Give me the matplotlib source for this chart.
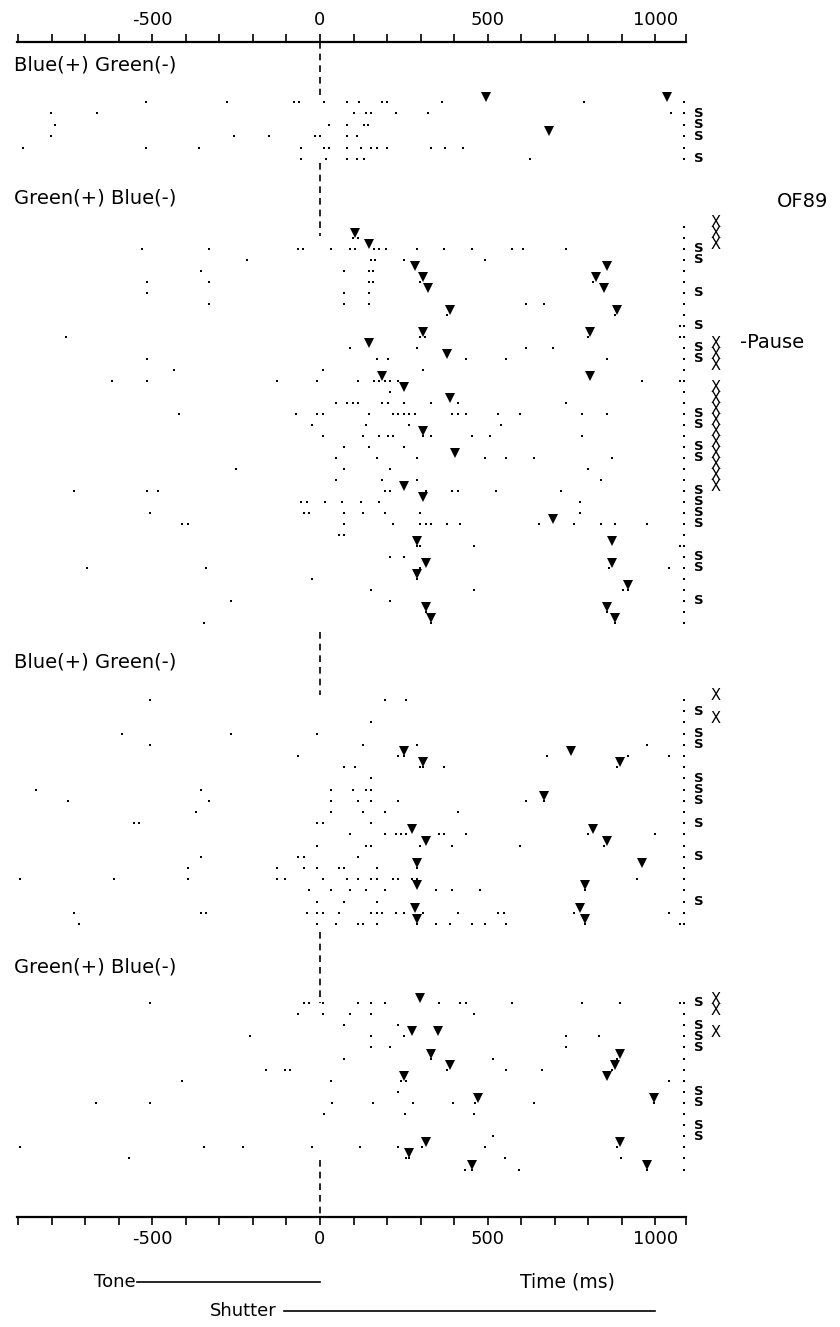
import matplotlib
matplotlib.use("Agg")
import matplotlib.pyplot as plt

# ---------------- data ----------------
tick_values = list(range(-900, 1001, 100))
labelled_ticks = [-500, 0, 500, 1000]
block_labels = ["Blue(+) Green(-)", "Green(+) Blue(-)", "Blue(+) Green(-)", "Green(+) Blue(-)"]

# spike times (ms) per trial row, per block
block1_spikes = [
    [-519, -278, -77, -64, 12, 81, 116, 185, 199, 365, 786],
    [-802, -664, 102, 137, 151, 227, 323, 1048],
    [-789, 26, 81, 130, 144],
    [-802, -257, -153, -15, -1, 81, 109],
    [-885, -519, -360, -57, 12, 26, 81, 123, 151, 171, 199, 330, 372, 427],
    [-57, 19, 81, 109, 130, 627],
]
block1_triangles = [(0, 496), (0, 1035), (3, 682)]
block1_s_rows = [1, 2, 3, 5]
block1_x_rows = []

block2_spikes = [
    [],
    [97, 113],
    [-532, -331, -65, -52, 32, 89, 105, 161, 177, 197, 290, 371, 452, 573, 605, 734],
    [-218, 153, 165, 250, 492],
    [-355, 73, 145, 158],
    [-516, -331, 145, 158, 298, 815],
    [-516, 73, 145],
    [-331, 73, 145, 613, 669],
    [379, 879],
    [1073],
    [-758, 298, 314, 798, 1073],
    [89, 290, 613, 694],
    [-516, 169, 202, 435, 556, 855],
    [-435, 8, 306],
    [-621, -516, -129, -8, 113, 161, 177, 194, 210, 234, 960, 1073],
    [210],
    [48, 81, 97, 113, 185, 202, 250, 331, 411, 734],
    [-419, -73, -8, 8, 145, 218, 234, 250, 266, 282, 395, 411, 435, 532, 597, 782, 855],
    [-24, 137, 266, 540],
    [8, 129, 177, 202, 218, 306, 331, 452, 508, 782],
    [73, 145, 250],
    [48, 169, 290, 492, 556, 637, 871],
    [-250, 73, 210, 798],
    [48, 185, 290, 839],
    [-734, -516, -484, 194, 210, 315, 395, 411, 524, 718],
    [-56, -40, 16, 65, 121, 177, 774],
    [-508, -48, -32, 73, 129, 194, 298, 774],
    [-411, -395, 73, 218, 298, 315, 331, 379, 419, 653, 758, 839, 879, 976],
    [56, 73],
    [290, 298, 460, 1073],
    [210, 250],
    [-694, -339, 298, 863, 1040],
    [-24, 290],
    [153, 460, 903, 919],
    [-266, 210],
    [315, 855],
    [-347, 331, 879],
]
block2_triangles = [(1, 105), (2, 145), (4, 282), (4, 855), (5, 306), (5, 823), (6, 323), (6, 847),
                    (8, 387), (8, 887), (10, 306), (10, 806), (11, 145), (12, 379), (14, 185), (14, 806),
                    (15, 250), (16, 387), (19, 306), (21, 403), (24, 250), (25, 306), (27, 694),
                    (29, 290), (29, 871), (31, 315), (31, 871), (32, 290), (33, 919), (35, 315),
                    (35, 855), (36, 331), (36, 879)]
block2_s_rows = [2, 3, 6, 9, 11, 12, 17, 18, 20, 21, 24, 25, 26, 27, 30, 31, 34]
block2_x_rows = [0, 1, 2, 11, 12, 13, 15, 16, 17, 18, 19, 20, 21, 22, 23, 24]

block3_spikes = [
    [-508, 194, 258],
    [],
    [153],
    [-589, -266, -8],
    [-508, 129, 290, 976],
    [-65, 234, 250, 677, 919, 1040],
    [73, 105, 298, 306, 371, 887],
    [153],
    [-847, -355, 32, 97, 137, 153],
    [-750, -331, 32, 113, 153, 234, 613, 669],
    [-371, 32, 129, 194, 411],
    [-556, -540, -8, 8, 153],
    [89, 194, 226, 242, 258, 355, 371, 435, 798, 1000],
    [-8, 137, 153, 298, 395, 597, 847],
    [-355, -65, -48, 113],
    [-395, -129, -48, -8, 56, 73, 169, 290],
    [-895, -613, -395, -129, -105, 8, 81, 113, 153, 169, 218, 234, 274, 290, 944],
    [-32, 32, 89, 137, 194, 347, 395, 476, 790],
    [-8, 73, 169],
    [-734, -355, -339, -40, -8, 8, 56, 153, 169, 185, 226, 250, 306, 411, 532, 548, 758, 1040],
    [-718, -8, 48, 113, 129, 169, 290, 347, 387, 452, 492, 556, 790, 1073],
]
block3_triangles = [(5, 250), (5, 750), (6, 306), (6, 895), (9, 669), (12, 274), (12, 815),
                    (13, 315), (13, 855), (15, 290), (15, 960), (17, 290), (17, 790),
                    (19, 282), (19, 774), (20, 290), (20, 790)]
block3_s_rows = [1, 3, 4, 7, 8, 9, 11, 14, 18]
block3_x_rows = [0, 2]

block4_spikes = [
    [-508, -48, -32, 8, 113, 153, 194, 355, 419, 435, 573, 782, 895, 1073],
    [-65, 8, 89, 153, 460],
    [73, 234],
    [-210, 153, 250, 734, 831],
    [153, 210, 734],
    [73, 331, 516, 887],
    [-161, -105, -89, 379, 556, 661, 871],
    [-411, 32, 242, 258, 1040],
    [234],
    [-669, -508, 35, 158, 277, 398, 463, 637, 995],
    [13, 255, 460],
    [],
    [516],
    [-895, -347, -229, -24, 118, 234, 303, 492, 887],
    [-569, 258, 266, 553, 898],
    [432, 452, 594, 976],
]
block4_triangles = [(0, 298), (3, 274), (3, 352), (5, 331), (5, 895), (6, 387), (6, 879),
                    (7, 250), (7, 855), (9, 471), (9, 995), (13, 315), (13, 895),
                    (14, 266), (15, 452), (15, 976)]
block4_s_rows = [0, 2, 3, 4, 8, 9, 11, 12]
block4_x_rows = [0, 1, 3]

trial_end_ms = 1085
tone_span = (-546, 0)
shutter_span = (-108, 998)

# ---------------- layout (pixels from top) ----------------
W, H, DPI = 840, 1327, 100
AX_TOP, AX_BOT = 42, 1217
PX_LEFT, PX_RIGHT = 16.5, 685.5
XMIN, XMAX = -905, 1090

blocks = [
    dict(spikes=block1_spikes, tri=block1_triangles, s=block1_s_rows, x=block1_x_rows,
         start=102, step=11.4, label_y=65),
    dict(spikes=block2_spikes, tri=block2_triangles, s=block2_s_rows, x=block2_x_rows,
         start=227, step=11.0, label_y=198),
    dict(spikes=block3_spikes, tri=block3_triangles, s=block3_s_rows, x=block3_x_rows,
         start=700, step=11.2, label_y=662),
    dict(spikes=block4_spikes, tri=block4_triangles, s=block4_s_rows, x=block4_x_rows,
         start=1003, step=11.1, label_y=967),
]
dash_segments = [(AX_TOP, 95), (163, 236), (632, 695), (932, 1003), (1160, AX_BOT)]

fig = plt.figure(figsize=(W / DPI, H / DPI), dpi=DPI)
ax = fig.add_axes([PX_LEFT / W, 1 - AX_BOT / H, (PX_RIGHT - PX_LEFT) / W, (AX_BOT - AX_TOP) / H])
ax.set_xlim(XMIN, XMAX)
ax.set_ylim(AX_BOT, AX_TOP)
for s in ["left", "right"]:
    ax.spines[s].set_visible(False)
for s in ["top", "bottom"]:
    ax.spines[s].set_linewidth(1.6)
ax.set_yticks([])
ticks = tick_values + [XMAX]
ax.set_xticks(ticks)
ax.set_xticklabels([str(t) if t in labelled_ticks else "" for t in ticks])
ax.tick_params(axis="x", which="major", direction="out", length=5.5, width=1.2,
               top=True, bottom=True, labeltop=True, labelbottom=True, labelsize=13, pad=4)

ink = "black"

for b in blocks:
    ys = [b["start"] + i * b["step"] for i in range(len(b["spikes"]))]
    for y, row in zip(ys, b["spikes"]):
        xs = list(row) + [trial_end_ms]
        ax.plot(xs, [y] * len(xs), linestyle="none", marker="s", markersize=2.1,
                color=ink, markeredgewidth=0)
    tx = [t for r, t in b["tri"]]
    ty = [ys[r] - 5 for r, t in b["tri"]]
    ax.plot(tx, ty, linestyle="none", marker="v", markersize=6.5, color=ink, markeredgewidth=0)
    for r in b["s"]:
        ax.text(1130, ys[r], "S", fontsize=9.5, fontweight="bold", ha="center", va="center",
                clip_on=False)
    for r in b["x"]:
        ax.text(1180, ys[r] - 4, "X", fontsize=10.5, ha="center", va="center", clip_on=False)

for y0, y1 in dash_segments:
    ax.plot([0, 0], [y0, y1], color=ink, linewidth=1.2, linestyle=(0, (4, 3)))

label_x = -912
for b, lab in zip(blocks, block_labels):
    ax.text(label_x, b["label_y"], lab, fontsize=14, ha="left", va="center", clip_on=False)

ax.text(1440, 202, "OF89", fontsize=14, ha="center", va="center", clip_on=False)
ax.text(1253, 343, "-Pause", fontsize=14, ha="left", va="center", clip_on=False)

ax.plot(list(tone_span), [1282, 1282], color=ink, linewidth=1.2, clip_on=False)
ax.text(tone_span[0] - 3, 1282, "Tone", fontsize=13, ha="right", va="center", clip_on=False)
ax.text(597, 1282, "Time (ms)", fontsize=13.5, ha="left", va="center", clip_on=False)
ax.plot(list(shutter_span), [1311, 1311], color=ink, linewidth=1.2, clip_on=False)
ax.text(shutter_span[0] - 20, 1311, "Shutter", fontsize=13, ha="right", va="center", clip_on=False)

fig.savefig("out.png", dpi=DPI)
